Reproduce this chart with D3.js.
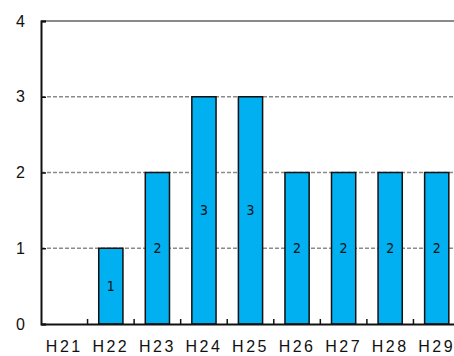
<!DOCTYPE html>
<html>
<head>
<meta charset="utf-8">
<script src="https://cdn.jsdelivr.net/npm/d3@7"></script>
<style>
  html, body { margin: 0; padding: 0; background: #fff; }
  svg { display: block; }
</style>
</head>
<body>
<svg id="chart" width="454" height="356"></svg>
<script>
const categories = ["H21", "H22", "H23", "H24", "H25", "H26", "H27", "H28", "H29"];
const counts = [0, 1, 2, 3, 3, 2, 2, 2, 2];
const yTicks = [0, 1, 2, 3, 4];

const svg = d3.select("#chart");
const plotLeft = 41, plotRight = 460, plotTop = 21, plotBottom = 324;

const x = d3.scaleBand().domain(categories).range([plotLeft, plotRight]).paddingInner(0.48).paddingOuter(0.24);
const xb = d3.scaleBand().domain(categories).range([plotLeft, plotRight]);
const y = d3.scaleLinear().domain([0, 4]).range([plotBottom, plotTop]);

// horizontal gridlines
svg.append("g").selectAll("line")
  .data(yTicks.filter(d => d > 0))
  .join("line")
  .attr("x1", plotLeft).attr("x2", 454)
  .attr("y1", d => y(d)).attr("y2", d => y(d))
  .attr("stroke", "#8a8a8a")
  .attr("stroke-width", d => d === 4 ? 2 : 1.5)
  .attr("stroke-dasharray", d => d === 4 ? null : "4,2");

const rows = categories.map((c, i) => ({ c, v: counts[i] })).filter(d => d.v > 0);

// bars
svg.append("g").selectAll("rect")
  .data(rows)
  .join("rect")
  .attr("x", d => x(d.c))
  .attr("y", d => y(d.v))
  .attr("width", x.bandwidth())
  .attr("height", d => y(0) - y(d.v))
  .attr("fill", "#00b0f0")
  .attr("stroke", "#111")
  .attr("stroke-width", 1.5);

// value labels
svg.append("g").selectAll("text")
  .data(rows)
  .join("text")
  .attr("x", d => x(d.c) + x.bandwidth() / 2)
  .attr("y", d => (y(d.v) + y(0)) / 2)
  .attr("dy", "0.35em")
  .attr("text-anchor", "middle")
  .attr("font-family", "DejaVu Sans Condensed, DejaVu Sans, sans-serif")
  .attr("font-size", 14)
  .attr("fill", "#111")
  .text(d => d.v);

// y axis
const yAxis = d3.axisLeft(y).tickValues(yTicks).tickSize(-5).tickPadding(16).tickFormat(d3.format("d"));
const gy = svg.append("g").attr("transform", `translate(${plotLeft},0)`).call(yAxis);
gy.select(".domain").attr("stroke", "#111").attr("stroke-width", 2);
gy.selectAll(".tick line").attr("stroke", "#111").attr("stroke-width", 1.5);
gy.selectAll(".tick text").attr("font-family", "Liberation Sans, Arial, sans-serif").attr("font-size", 16).attr("fill", "#111");

// x axis
const xAxis = d3.axisBottom(xb).tickSize(0).tickPadding(17);
const gx = svg.append("g").attr("transform", `translate(0,${plotBottom})`).call(xAxis);
gx.select(".domain").attr("stroke", "#111").attr("stroke-width", 2);
gx.selectAll(".tick text").attr("font-family", "Liberation Sans, Arial, sans-serif").attr("font-size", 16)
  .attr("letter-spacing", "2.5px").attr("fill", "#111");

// category boundary ticks
svg.append("g").selectAll("line")
  .data(categories.slice(1))
  .join("line")
  .attr("x1", d => xb(d)).attr("x2", d => xb(d))
  .attr("y1", plotBottom).attr("y2", plotBottom - 5)
  .attr("stroke", "#111").attr("stroke-width", 1.5);
</script>
</body>
</html>
